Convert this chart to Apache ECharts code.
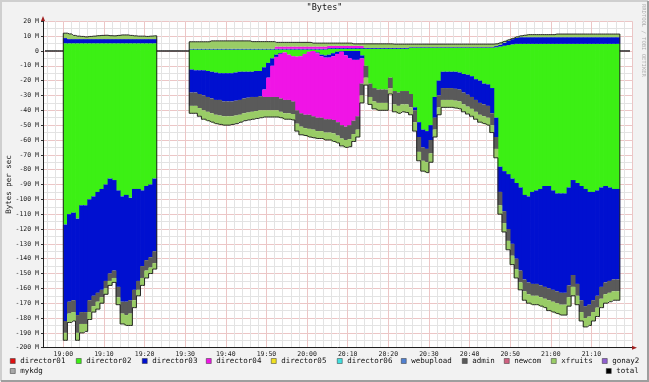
<!DOCTYPE html>
<html><head><meta charset="utf-8">
<script src="https://cdn.jsdelivr.net/npm/echarts@6/dist/echarts.min.js"></script>
<style>html,body{margin:0;padding:0;background:#f2f2f2;}#c{width:649px;height:382px;}</style>
</head><body><div id="c"></div>
<script>
// ---- time categories (one per minute, 18:55 .. 21:19) ----
const startHour = 18, startMinute = 55, minuteCount = 145;
const categories = [];
for (let i = 0; i < minuteCount; i++) {
  const m = startHour * 60 + startMinute + i;
  categories.push(Math.floor(m / 60) + ':' + String(m % 60).padStart(2, '0'));
}
const block1Start = 5;   // 19:00
const block2Start = 36;  // 19:31

// ---- y tick labels (M = 1e6 bytes/s) ----
const yMin = -200, yMax = 20, yStep = 10;

// ---- block 1 (19:00 - 19:22), values in M ----
const director02In1  = [5.2,5.2,5.2,5.2,5.2,5.2,5.2,5.2,5.2,5.2,5.2,5.2,5.2,5.2,5.2,5.2,5.2,5.2,5.2,5.2,5.2,5.2,5.2];
const director03In1  = [3.5,2.8,2.8,2.8,2.8,2.8,2.8,2.8,2.8,2.8,2.8,2.8,2.8,2.8,2.8,2.8,2.8,2.8,2.8,2.8,2.8,2.8,2.8];
const xfruitsIn1     = [3.3,3.5,2.5,2.0,1.8,1.5,1.8,2.0,2.3,2.5,2.6,2.3,2.2,2.5,2.8,2.8,2.5,2.2,2.0,2.0,1.8,2.0,2.2];
const director02Out1 = [-117,-110,-109,-113,-104,-104,-100,-98,-95,-93,-90,-86,-87,-94,-98,-97,-99,-93,-93,-94,-91,-90,-86];
const director03Out1 = [-65,-59,-59,-65,-72,-72,-68,-67,-68,-68,-65,-64,-61,-65,-71,-72,-69,-68,-62,-51,-50,-49,-49];
const adminOut1      = [-8,-8,-8,-12,-8,-8,-8,-7,-6,-5,-5,-5,-5,-7,-8,-9,-9,-7,-6,-8,-7,-7,-8];
const xfruitsOut1    = [-5,-6,-6,-5,-6,-5,-5,-4,-5,-4,-4,-3,-3,-5,-7,-7,-8,-5,-4,-5,-5,-4,-4];

// ---- block 2 (19:31 - 21:16), values in M ----
const director02In2 = [1,1,1,1,1,1,1,1,1,1,1,1,1,1,1,1,1,1,1,1,1,1,1,1,1,1,1,1,1,1,1,1,1,1,
  1.5,1.5,1.5,1.5,1.5,1.5,1.5,1.5,1.5,1.5,1.5,1.5,1.5,1.5,1.5,1.5,1.5,1.5,1.5,1.5,
  2,2,2,2,2,2,2,2,2,2,2,2,2,2,2,2,2,2,2,2,2,
  2.5,3,3.5,4,4.5,
  4.8,4.8,4.8,4.8,4.8,4.8,4.8,4.8,4.8,4.8,4.8,4.8,4.8,4.8,4.8,4.8,4.8,4.8,4.8,4.8,4.8,4.8,4.8,4.8,4.8,4.8];
const director03In2 = [0.5,0.5,0.5,0.5,0.5,0.5,0.5,0.5,0.5,0.5,0.5,0.5,0.5,0.5,0.5,0.5,0.5,0.5,0.5,0.5,
  0.5,0.5,0.5,0.5,0.5,0.5,0.5,0.5,0.5,0.5,0.5,0.5,0.5,0.5,0.5,0.5,0.5,0.5,0.5,0.5,
  0.5,0.5,0.5,0.5,0.5,0.5,0.5,0.5,0.5,0.5,0.5,0.5,0.5,0.5,0.5,0.5,0.5,0.5,0.5,0.5,
  0.5,0.5,0.5,0.5,0.5,0.5,0.5,0.5,0.5,0.5,0.5,0.5,0.5,0.5,0.5,
  0.8,1.3,2,2.8,3.5,4,
  4.5,4.5,4.5,4.5,4.5,4.5,4.5,4.5,4.5,4.5,4.5,4.5,4.5,4.5,4.5,4.5,4.5,4.5,4.5,4.5,4.5,4.5,4.5,4.5,4.5];
const director04In2 = [0,0,0,0,0,0,0,0,0,0,0,0,0,0,0,0,0,0,0,0,0,
  1.5,1.5,1.5,1.5,1.5,1.5,1.5,1.5,1.5,1.5,1.5,1.5,1.5,1.5,1.5,1.5,1.5,1.5,1.5,1.5,1.5,1.5,
  0,0,0,0,0,0,0,0,0,0,0,0,0,0,0,0,0,0,0,0,0,0,0,0,0,0,0,0,0,0,0,0,0,0,0,0,0,0,0,0,
  0,0,0,0,0,0,0,0,0,0,0,0,0,0,0,0,0,0,0,0,0,0,0];
const xfruitsIn2 = [4.7,4.7,4.7,4.7,4.7,
  5.3,5.3,5.3,5.3,5.3,5.3,5.3,5.3,5.3,5.3,
  4.8,4.8,4.8,4.8,4.8,4.8,
  2.8,2.8,2.8,2.8,2.8,2.8,2.8,2.8,2.8,
  2.3,2.3,2.3,2.3,
  1.8,1.8,1.8,1.8,1.8,1.8,
  1.3,1.3,1.3,
  2.8,2.8,2.8,2.8,2.8,2.8,2.8,
  2.6,2.6,2.6,2.6,
  2.1,2.1,2.1,2.1,2.1,2.1,2.1,2.1,2.1,2.1,2.1,2.1,2.1,2.1,2.1,2.1,2.1,2.1,2.1,2.1,2.1,
  1.5,1.2,1.0,0.7,0.5,0.7,0.9,1.3,
  1.7,1.7,1.7,1.7,1.7,1.7,1.7,
  2.1,2.1,2.1,2.1,2.1,2.1,2.1,2.1,2.1,2.1,2.1,2.1,2.1,2.1,2.1,2.1];
const director02Out2 = [-12.5,-13,-13,-13,-13.5,-14,-14.5,-15,-15,-15,-15,-14.5,-14,-14,-14,-14,-13.5,-13.5,
  -11,-8,-5,-2.5,-1.5,-1,-2.5,-3.5,-3.8,-3.5,-2,-0.5,0,-1,-2.5,-3,-2.5,-1.5,-0.5,0,0,0,0,0,-3,-10,
  -22,-25,-26,-26,-26,-18,-27,-28,-27,-27,-29,
  -38,-48,-53,-54,-50,-31,-20,-14,-14,-14,-14,-14.5,-15.5,-16,-17,-19,-20,-22,-22.5,-25,
  -45,-78,-81,-83,-86,-89,-92,-97,-98,-95,-94,-93,-91,-91,-94,-96,-96,-96,-92,-87,-89,-91,-93,-95,-95,-94,-92,-91,-92,-93,-93];
const director03Out2 = [-15.5,-15,-16,-17,-17.5,-18,-18.5,-18,-19,-19,-19,-19,-19,-18,-17.5,-17,-17.5,-17,
  -15,-10,-5,-1.5,-0.5,0,0,0,0,0,0,0,0,-0.5,-1,-1.5,-2,-2,-1.5,-0.5,-3,-5,-6,-6,-2,0,
  0,0,0,0,0,0,0,0,0,0,0,
  -2,-10,-12,-12,-10,-14,-10,-11,-11,-11,-11.5,-11.5,-12.5,-13.5,-14,-14,-15,-14,-14.5,-17,
  -13,-17,-27,-37,-44,-51,-56,-57,-58,-62,-63,-65,-68,-69,-67,-66,-67,-67,-66,-64,-68,-77,-79,-76,-73,-71,-67,-65,-63,-61,-61];
const director04Out2 = [0,0,0,0,0,0,0,0,0,0,0,0,0,0,0,0,0,0,
  -5,-13,-21,-27,-30,-32,-30.5,-30.5,-36.2,-38.5,-41,-42.5,-44,-43.5,-41.5,-41.5,-41.5,-43,-46,-49.5,-48,-45,-41,-38,-17,0,
  0,0,0,0,0,0,0,0,0,0,0,0,0,0,0,0,0,0,0,0,0,0,0,0,0,0,0,0,0,0,0,
  0,0,0,0,0,0,0,0,0,0,0,0,0,0,0,0,0,0,0,0,0,0,0,0,0,0,0,0,0,0,0];
const adminOut2 = [-9,-9,-9.5,-10,-10,-10,-10,-10.5,-10,-10,-10,-10,-10,-10,-10,-10,-9.5,-9.5,
  -9,-9,-9,-9,-9,-9,-9,-8.5,-9,-9,-9,-9.5,-9,-9,-9,-9,-9,-9,-9,-9,-9,-9.5,-9,-9,-8,-8,
  -9,-9,-9,-9,-9,-7,-9,-9,-9,-9,-9,
  -8,-10,-9,-9,-9,-8,-8,-8,-8,-8,-8,-8,-8,-8,-8,-8,-8,-8,-8,-8,
  -8,-9,-8,-8,-8,-7,-8,-8,-8,-8,-8,-8,-8,-8,-8,-8,-8,-8,-8,-8,-8,-8,-8,-8,-8,-8,-8,-8,-8,-8,-8];
const xfruitsOut2 = [-5,-5,-5.5,-6,-6,-6,-6,-6,-6,-6,-5.5,-5.5,-5,-5,-5,-5,-5,-5,
  -4.5,-4.5,-4.5,-4.5,-4,-4,-4,-4,-5,-5.5,-5,-5.5,-5.5,-5,-5,-5,-5,-5.5,-5,-5,-5,-5,-5,-5,-5,-5,
  -5,-5,-5,-5,-5,-4,-5,-5,-5,-5.5,-5,
  -6,-6,-7,-7,-6,-5,-5,-5,-5,-5,-5,-5,-5,-5,-5,-5,-5,-5,-5,-5,
  -6,-6,-6,-6,-6,-6,-5,-6,-6,-6,-6,-6,-6,-7,-7,-7,-7,-7,-6,-6,-6,-6,-6,-6,-6,-6,-6,-6,-6,-6,-6];

// ---- legend names / colours ----
const legendNames = ['director01','director02','director03','director04','director05','director06',
  'webupload','admin','newcom','xfruits','gonay2','mykdg','total'];
const colors = {director01:'#e01010', director02:'#3cf014', director03:'#0010d0', director04:'#f014e6',
  director05:'#f0e020', director06:'#40e0e0', webupload:'#5080d0', admin:'#5a5a5a', newcom:'#d06080',
  xfruits:'#99cc66', gonay2:'#9060d0', mykdg:'#a8a8a8', total:'#000000'};

// ---- build full-length arrays ----
function place(b1, b2) {
  const a = new Array(minuteCount).fill(null);
  if (b1) b1.forEach((v, k) => { a[block1Start + k] = v; });
  if (b2) b2.forEach((v, k) => { a[block2Start + k] = v; });
  return a;
}
const layers = [
  {name:'director02', data: place(director02In1, director02In2)},
  {name:'director02', data: place(director02Out1, director02Out2)},
  {name:'director03', data: place(director03In1, director03In2)},
  {name:'director03', data: place(director03Out1, director03Out2)},
  {name:'director04', data: place(null, director04In2)},
  {name:'director04', data: place(null, director04Out2)},
  {name:'admin',      data: place(adminOut1, adminOut2)},
  {name:'xfruits',    data: place(xfruitsIn1, xfruitsIn2)},
  {name:'xfruits',    data: place(xfruitsOut1, xfruitsOut2)}
];
const totalIn = new Array(minuteCount).fill(0), totalOut = new Array(minuteCount).fill(0);
layers.forEach(l => l.data.forEach((v, i) => {
  if (v == null) return;
  if (v > 0) totalIn[i] += v; else totalOut[i] += v;
}));

const FONT = '"DejaVu Sans Mono", monospace';
const BAR_W = 4.8; // slightly wider than one minute band so adjacent columns overlap (no seams)
const series = [];
layers.forEach(l => {
  series.push({
    type:'bar', name:l.name, stack:'bytes', barWidth:BAR_W, silent:true,
    itemStyle:{color:colors[l.name]},
    data: l.data.map(v => (v === 0 ? null : v)), z:2
  });
});
['director01','director05','director06','webupload','newcom','gonay2','mykdg'].forEach(n => {
  series.push({type:'bar', name:n, stack:'bytes', barWidth:BAR_W, data:[], itemStyle:{color:colors[n]}});
});
[totalIn, totalOut].forEach(t => {
  series.push({type:'line', name:'total', step:'middle', symbol:'none', showSymbol:false, silent:true,
    lineStyle:{color:'#262626', width:1}, itemStyle:{color:'#000'}, data:t, z:4});
});

const legendPos = {director01:[10,357], director02:[76,357], director03:[142,357], director04:[206,357],
  director05:[271,357], director06:[337,357], webupload:[401,357], admin:[462,357], newcom:[504,357],
  xfruits:[551,357], gonay2:[602,357], mykdg:[10,367], total:[606,367]};
const legends = legendNames.map(n => ({
  data:[n], left:legendPos[n][0], top:legendPos[n][1], padding:0, itemWidth:5, itemHeight:5,
  icon:'rect', selectedMode:false, itemGap:0,
  itemStyle:{borderColor:'#333', borderWidth:0.5},
  textStyle:{fontFamily:FONT, fontSize:7.5, color:'#111'}
}));

const minuteOf = i => (startMinute + i) % 60;

const chart = echarts.init(document.getElementById('c'), null, {renderer:'canvas'});
chart.setOption({
  animation:false,
  backgroundColor:'#f2f2f2',
  title:{text:'"Bytes"', left:'center', top:3, padding:0,
    textStyle:{fontFamily:FONT, fontSize:8.5, fontWeight:'normal', color:'#111'}},
  legend: legends,
  grid:{left:43, top:21.3, width:589, height:326.4, show:true, backgroundColor:'#ffffff', borderWidth:0,
    containLabel:false, outerBoundsMode:'none'},
  xAxis:[{
    type:'category', data:categories, boundaryGap:true,
    axisLine:{show:true, onZero:false, lineStyle:{color:'#1f1f1f', width:1}},
    axisTick:{show:false},
    axisLabel:{interval:(i) => minuteOf(i) % 10 === 0, fontFamily:FONT, fontSize:6.5, color:'#222', margin:3, padding:[0,4,0,0]},
    splitLine:{show:true, interval:(i) => minuteOf(i) % 2 === 0, lineStyle:{color:'#e3e3e3', width:1}}
  },{
    type:'category', data:categories, boundaryGap:true, position:'bottom',
    axisLine:{show:false}, axisTick:{show:false}, axisLabel:{show:false},
    splitLine:{show:true, interval:(i) => minuteOf(i) % 10 === 0, lineStyle:{color:'#ecc6c6', width:1}}
  }],
  yAxis:{
    type:'value', min:yMin, max:yMax, interval:yStep,
    axisLine:{show:true, lineStyle:{color:'#1f1f1f', width:1}},
    axisTick:{show:true, length:2, lineStyle:{color:'#333'}},
    axisLabel:{formatter:v => (v === 0 ? '0' : v + ' M'), fontFamily:FONT, fontSize:6.5, color:'#222', margin:4},
    splitLine:{show:true, lineStyle:{color:'#ecc6c6', width:1}},
    minorTick:{show:false, splitNumber:2},
    minorSplitLine:{show:true, lineStyle:{color:'#e3e3e3', width:1}},
    name:'Bytes per sec', nameLocation:'middle', nameGap:30, nameRotate:90, nameMoveOverlap:false,
    nameTextStyle:{fontFamily:FONT, fontSize:7.5, color:'#222'}
  },
  series: series,
  graphic:[
    {type:'text', x:643, y:4, rotation:-Math.PI/2, silent:true,
      style:{text:'RRDTOOL / TOBI OETIKER', font:'5.5px "DejaVu Sans Mono"', fill:'#b0b0b0', align:'left', verticalAlign:'middle'}},
    {type:'polygon', silent:true, shape:{points:[[41,21],[45,21],[43,16]]}, style:{fill:'#a02020'}, z:10},
    {type:'polygon', silent:true, shape:{points:[[632,345.7],[632,349.7],[637,347.7]]}, style:{fill:'#a02020'}, z:10},
    {type:'polyline', silent:true, shape:{points:[[1,381],[1,1],[648,1]]}, style:{stroke:'#cfcfcf', lineWidth:2, fill:null}},
    {type:'polyline', silent:true, shape:{points:[[648,1],[648,381],[1,381]]}, style:{stroke:'#9e9e9e', lineWidth:2, fill:null}}
  ]
});
</script></body></html>
